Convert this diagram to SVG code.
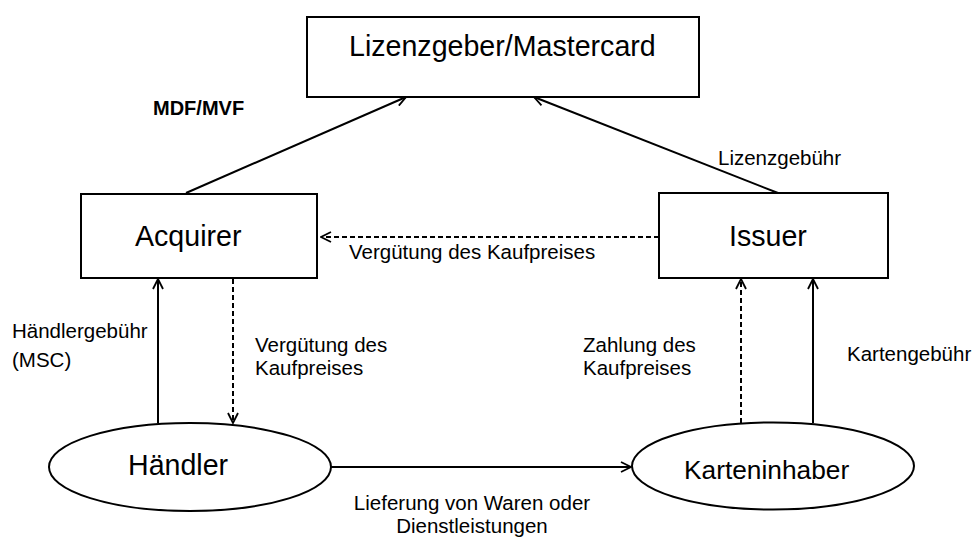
<svg xmlns="http://www.w3.org/2000/svg" width="976" height="538" viewBox="0 0 976 538">
<style>
text{font-family:"Liberation Sans",Arial,sans-serif;fill:#000}
.node{font-size:28.6px}
.lbl{font-size:20.5px}
.box{fill:#fff;stroke:#000;stroke-width:2}
.c{fill:none;stroke:#000;stroke-width:2}
.d{stroke-dasharray:5 3}
</style>
<defs>
<marker id="ah" viewBox="0 0 12 12" refX="11" refY="6" markerWidth="12" markerHeight="12" markerUnits="userSpaceOnUse" orient="auto">
<path d="M1,1 L11,6 L1,11" fill="none" stroke="#000" stroke-width="1.8"/>
</marker>
</defs>
<rect width="976" height="538" fill="#fff"/>
<g id="connectors">
<line class="c" x1="186" y1="193" x2="406" y2="97" marker-end="url(#ah)"/>
<line class="c" x1="778" y1="193" x2="534" y2="97" marker-end="url(#ah)"/>
<line class="c d" x1="659" y1="237" x2="321" y2="237" marker-end="url(#ah)"/>
<line class="c" x1="158" y1="423" x2="158" y2="279" marker-end="url(#ah)"/>
<line class="c d" x1="233" y1="279" x2="233" y2="423" marker-end="url(#ah)"/>
<line class="c d" x1="741" y1="423" x2="741" y2="279" marker-end="url(#ah)"/>
<line class="c" x1="813" y1="423" x2="813" y2="279" marker-end="url(#ah)"/>
<line class="c" x1="331" y1="467" x2="631" y2="467" marker-end="url(#ah)"/>
</g>
<g id="lizenzgeber">
<rect class="box" x="307" y="17" width="392" height="80"/>
<text class="node" x="349" y="56">Lizenzgeber/Mastercard</text>
</g>
<g id="acquirer">
<rect class="box" x="81" y="194" width="236" height="84"/>
<text class="node" x="135" y="246">Acquirer</text>
</g>
<g id="issuer">
<rect class="box" x="659" y="193" width="229" height="85"/>
<text class="node" x="729" y="246">Issuer</text>
</g>
<g id="haendler">
<ellipse class="box" cx="190" cy="467" rx="141" ry="44"/>
<text class="node" x="128" y="475">Händler</text>
</g>
<g id="karteninhaber">
<ellipse class="box" cx="773" cy="466" rx="141" ry="43.5"/>
<text class="node" x="684" y="479" style="font-size:26.3px">Karteninhaber</text>
</g>
<g id="labels">
<text x="153" y="115" style="font-size:20px;font-weight:bold">MDF/MVF</text>
<text class="lbl" x="718" y="165">Lizenzgebühr</text>
<text class="lbl" x="349" y="259">Vergütung des Kaufpreises</text>
<text class="lbl" x="12" y="338">Händlergebühr</text>
<text class="lbl" x="12" y="367">(MSC)</text>
<text class="lbl" x="255" y="352">Vergütung des</text>
<text class="lbl" x="255" y="375">Kaufpreises</text>
<text class="lbl" x="583" y="352">Zahlung des</text>
<text class="lbl" x="583" y="375">Kaufpreises</text>
<text class="lbl" x="847" y="361">Kartengebühr</text>
<text class="lbl" x="472" y="510" text-anchor="middle">Lieferung von Waren oder</text>
<text class="lbl" x="472" y="533" text-anchor="middle">Dienstleistungen</text>
</g>
</svg>
